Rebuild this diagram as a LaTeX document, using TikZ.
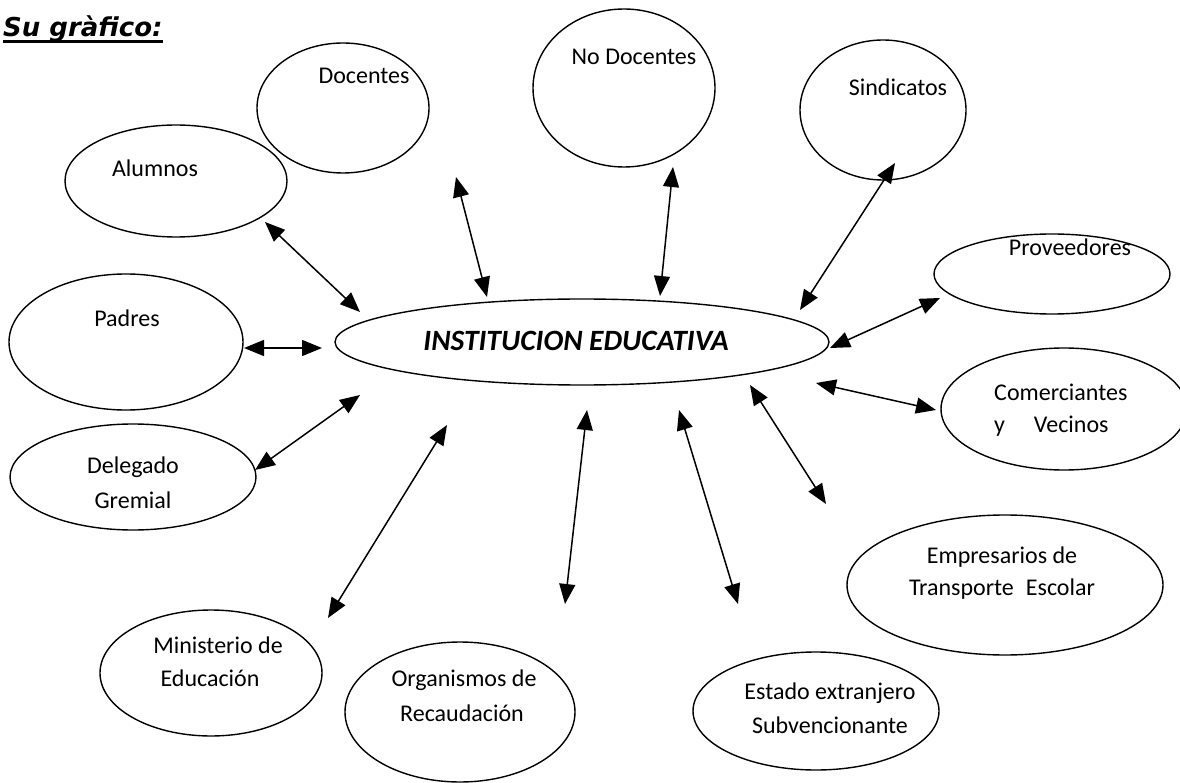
\documentclass[tikz,border=0pt]{standalone}
\usepackage{fontspec}
\setmainfont{Carlito}
\newfontfamily\titlefont{DejaVu Sans}
\usetikzlibrary{shapes.geometric,arrows.meta}
\begin{document}
\begin{tikzpicture}[x=1pt,y=-1pt,
  ell/.style={draw,ellipse,line width=1.4pt,inner sep=0pt},
  lbl/.style={font=\fontsize{24}{28}\selectfont,inner sep=0pt,align=center},
  biarrow/.style={line width=1.5pt,{Triangle[length=20pt,width=16pt]}-{Triangle[length=20pt,width=16pt]}}]
\useasboundingbox (0,0) rectangle (1180,783);
% title
\node[inner sep=0pt,anchor=base west,font=\titlefont\bfseries\itshape\fontsize{26}{30}\selectfont] (title) at (3,37) {Su gràfico:};
\draw[line width=3pt] ([yshift=-5pt]title.base west) -- ([yshift=-5pt]title.base east);
% ellipses
\node[ell,minimum width=494pt,minimum height=86pt] (inst) at (582,342) {};
\node[inner sep=0pt,font=\fontsize{29.5}{34}\selectfont\bfseries\itshape] (instt) at (576,341) {INSTITUCION EDUCATIVA};
\node[ell,minimum width=172pt,minimum height=130pt] (doc) at (343,108) {};
\node[lbl] (doct) at (364,76) {Docentes};
\node[ell,minimum width=182pt,minimum height=158pt] (nodoc) at (624,88) {};
\node[lbl] (nodoct) at (634,57) {No Docentes};
\node[ell,minimum width=166pt,minimum height=140pt] (sind) at (883,110) {};
\node[lbl] (sindt) at (898,87) {Sindicatos};
\node[ell,minimum width=222pt,minimum height=112pt] (alum) at (176,181) {};
\node[lbl] (alumt) at (155,168) {Alumnos};
\node[ell,minimum width=236pt,minimum height=80pt] (prov) at (1052,274) {};
\node[lbl] (provt) at (1070,247) {Proveedores};
\node[ell,minimum width=234pt,minimum height=136pt] (pad) at (126,342) {};
\node[lbl] (padt) at (127,318) {Padres};
\node[ell,minimum width=246pt,minimum height=122pt] (com) at (1064,409) {};
\node[lbl,anchor=west] (comt1) at (994,392) {Comerciantes};
\node[lbl,anchor=west] (comt2) at (994,426) {y\hspace{1.2em}Vecinos};
\node[ell,minimum width=246pt,minimum height=106pt] (del) at (133,477) {};
\node[lbl] (delt1) at (133,467) {Delegado};
\node[lbl] (delt2) at (133,500) {Gremial};
\node[ell,minimum width=222pt,minimum height=126pt] (min) at (211,673) {};
\node[lbl] (mint1) at (218,645) {Ministerio de};
\node[lbl] (mint2) at (210,678) {Educación};
\node[ell,minimum width=230pt,minimum height=140pt] (org) at (460,712) {};
\node[lbl] (orgt1) at (464,680) {Organismos de};
\node[lbl] (orgt2) at (462,713) {Recaudación};
\node[ell,minimum width=246pt,minimum height=118pt] (est) at (816,711) {};
\node[lbl] (estt1) at (830,693) {Estado extranjero};
\node[lbl] (estt2) at (830,725) {Subvencionante};
\node[ell,minimum width=316pt,minimum height=140pt] (emp) at (1005,585) {};
\node[lbl] (empt1) at (1002,557) {Empresarios de};
\node[lbl] (empt2) at (1002,589) {Transporte\hspace{0.5em}Escolar};
% arrow ends
\coordinate (d1) at (456,177); \coordinate (d2) at (487,297);
\coordinate (n1) at (673,167); \coordinate (n2) at (660,296);
\coordinate (s1) at (895,163); \coordinate (s2) at (800,310);
\coordinate (a1) at (265,222); \coordinate (a2) at (360,312);
\coordinate (p1) at (244,348); \coordinate (p2) at (322,348);
\coordinate (v1) at (940,298); \coordinate (v2) at (830,348);
\coordinate (c1) at (816,383); \coordinate (c2) at (936,410);
\coordinate (g1) at (255,470); \coordinate (g2) at (360,395);
\coordinate (m1) at (328,618); \coordinate (m2) at (447,425);
\coordinate (o1) at (587,410); \coordinate (o2) at (565,604);
\coordinate (e1) at (679,410); \coordinate (e2) at (738,604);
\coordinate (t1) at (750,385); \coordinate (t2) at (826,504);
\foreach \u/\v in {d1/d2,n1/n2,s1/s2,a1/a2,p1/p2,v1/v2,c1/c2,g1/g2,m1/m2,o1/o2,e1/e2,t1/t2}
  \draw[biarrow] (\u) -- (\v);
\end{tikzpicture}
\end{document}
